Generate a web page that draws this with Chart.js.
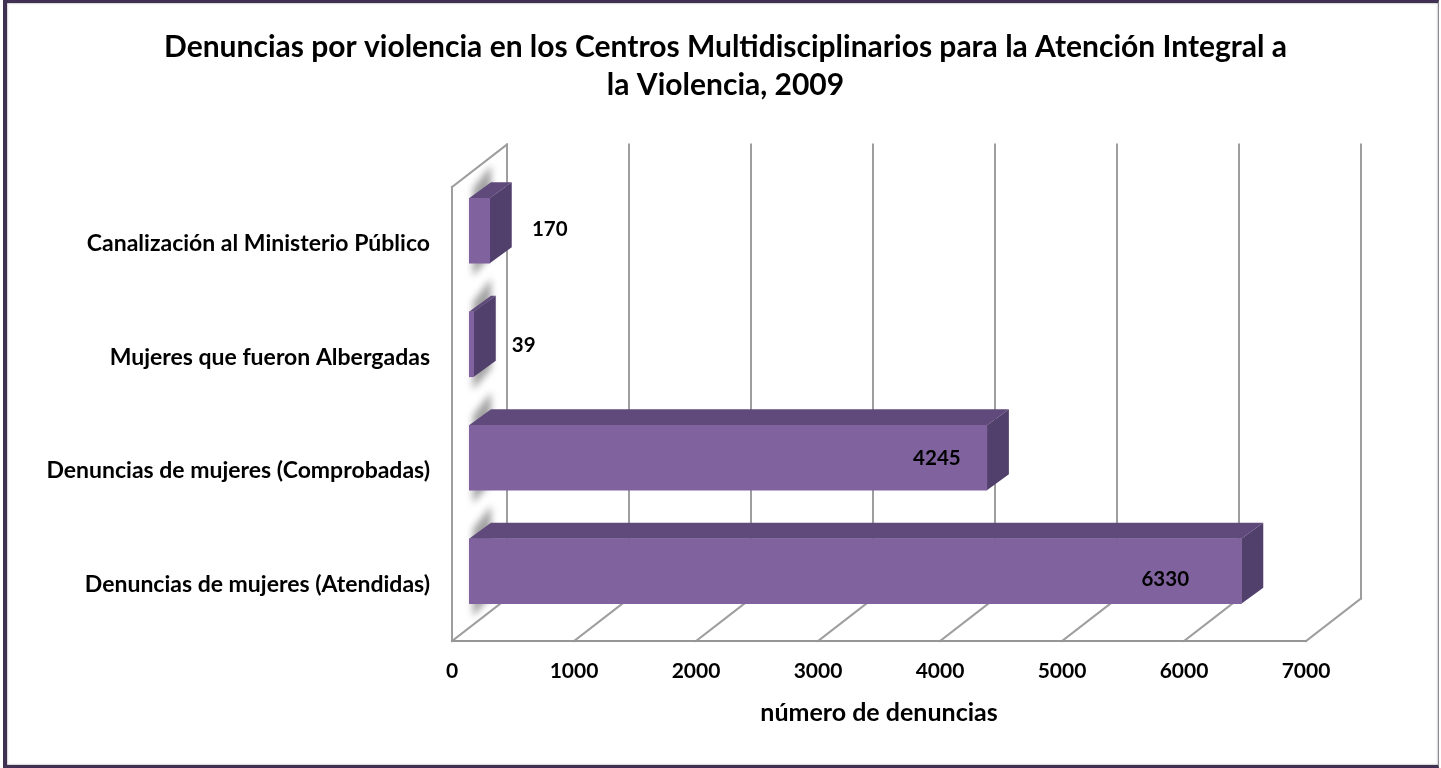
<!DOCTYPE html>
<html lang="es">
<head>
<meta charset="utf-8">
<title>Denuncias por violencia</title>
<script src="https://cdn.jsdelivr.net/npm/chart.js@4"></script>
<style>
html,body{margin:0;padding:0;background:#fff;overflow:hidden;width:1441px;height:768px}
#wrap{position:relative;width:1441px;height:768px}
canvas{position:absolute;left:0;top:0;filter:blur(0.45px)}
#frame{position:absolute;left:3px;top:0;width:1436px;height:768px;box-sizing:border-box;
 border-style:solid;border-color:#403152;border-width:3px 1px 3px 4px;border-right-color:#8f8a99;
 box-shadow:inset 0 0 2px #777;pointer-events:none}
</style>
</head>
<body>
<div id="wrap"><canvas id="c" width="1441" height="768"></canvas><div id="frame"></div></div>
<script>
const titleLines = ["Denuncias por violencia en los Centros Multidisciplinarios para la Atención Integral a", "la Violencia, 2009"];
const categories = ["Canalización al Ministerio Público", "Mujeres que fueron Albergadas", "Denuncias de mujeres (Comprobadas)", "Denuncias de mujeres (Atendidas)"];
const denuncias = [170, 39, 4245, 6330];
const xTitle = "número de denuncias";
const xMax = 7000;
const xStep = 1000;

const FONT = "Lato, Carlito, sans-serif";
const WALL = {dx: 55, dy: -42.5};          // chart-box depth
const BAR_SHIFT = {dx: 17, dy: -13};       // bar plane inside the box
const BAR_DEPTH = {dx: 22, dy: -16};       // bar's own depth
const LABEL_OFFSET = [[60, -1], [50, 1], [-50, 1], [-76, 8]];

function poly(ctx, pts){
  ctx.beginPath();
  pts.forEach((p,i)=> i ? ctx.lineTo(p[0],p[1]) : ctx.moveTo(p[0],p[1]));
  ctx.closePath();
}

const box3d = {
  id: 'box3d',
  beforeDatasetsDraw(chart){
    const {ctx, chartArea:a, scales:{x}} = chart;
    ctx.save();
    ctx.strokeStyle = '#9e9e9e';
    ctx.lineWidth = 2;
    ctx.lineCap = 'square';
    const line = (x1,y1,x2,y2)=>{ctx.beginPath();ctx.moveTo(x1,y1);ctx.lineTo(x2,y2);ctx.stroke();};
    x.ticks.forEach(t=>{
      const px = x.getPixelForValue(t.value);
      line(px+WALL.dx, a.bottom+WALL.dy, px+WALL.dx, a.top+WALL.dy);
      line(px, a.bottom, px+WALL.dx, a.bottom+WALL.dy);
    });
    line(a.left, a.top, a.left, a.bottom);
    line(a.left, a.top, a.left+WALL.dx, a.top+WALL.dy);
    ctx.strokeStyle = '#969696';
    line(a.left, a.bottom, a.right, a.bottom);

    // soft shadow thrown on the side wall
    const meta = chart.getDatasetMeta(0);
    ctx.filter = 'blur(3.5px)';
    ctx.fillStyle = '#a2a2a2';
    meta.data.forEach(bar=>{
      const p = bar.getProps(['y','height','base']);
      const lx = p.base+BAR_SHIFT.dx, t = p.y-p.height/2+BAR_SHIFT.dy, b = p.y+p.height/2+BAR_SHIFT.dy;
      poly(ctx, [[lx+4,t-10],[lx+BAR_DEPTH.dx,t-33],[lx+BAR_DEPTH.dx,b-8],[lx+4,b+13]]);
      ctx.fill();
    });
    ctx.filter = 'none';
    ctx.restore();

    // bar top and end faces, in the bars' own plane
    ctx.save();
    meta.data.forEach(bar=>{
      const p = bar.getProps(['x','y','height','base']);
      const l = p.base+BAR_SHIFT.dx, r = p.x+BAR_SHIFT.dx;
      const t = p.y-p.height/2+BAR_SHIFT.dy, b = p.y+p.height/2+BAR_SHIFT.dy;
      const d = BAR_DEPTH;
      ctx.fillStyle = '#604a7b';
      poly(ctx, [[l,t],[l+d.dx,t+d.dy],[r+d.dx,t+d.dy],[r,t]]); ctx.fill();
      ctx.fillStyle = '#513f6c';
      poly(ctx, [[r,t],[r+d.dx,t+d.dy],[r+d.dx,b+d.dy],[r,b]]); ctx.fill();
    });
    ctx.restore();
  },
  beforeDatasetDraw(chart){
    chart.ctx.save();
    chart.ctx.translate(BAR_SHIFT.dx, BAR_SHIFT.dy);
  },
  afterDatasetDraw(chart){
    chart.ctx.restore();
  },
  afterDatasetsDraw(chart){
    const {ctx} = chart;
    const meta = chart.getDatasetMeta(0);
    ctx.save();
    ctx.font = 'bold 20.5px ' + FONT;
    ctx.fillStyle = '#000';
    ctx.textAlign = 'center';
    ctx.textBaseline = 'middle';
    meta.data.forEach((bar,i)=>{
      const p = bar.getProps(['x','y']);
      ctx.fillText(String(denuncias[i]),
        p.x+BAR_SHIFT.dx+LABEL_OFFSET[i][0],
        p.y+BAR_SHIFT.dy+LABEL_OFFSET[i][1]);
    });
    ctx.restore();
  }
};

new Chart(document.getElementById('c'), {
  type: 'bar',
  data: {
    labels: categories,
    datasets: [{
      data: denuncias,
      backgroundColor: '#7f629e',
      borderWidth: 0,
      barThickness: 65
    }]
  },
  plugins: [box3d],
  options: {
    indexAxis: 'y',
    responsive: false,
    animation: false,
    devicePixelRatio: 1,
    layout: {padding: {left: 10, right: 0, top: 0, bottom: 40}},
    plugins: {
      legend: {display: false},
      tooltip: {enabled: false},
      title: {
        display: true,
        text: titleLines,
        color: '#000',
        font: {family: FONT, size: 30, weight: 'bold', lineHeight: 1.25},
        padding: {top: 29, bottom: 83}
      }
    },
    scales: {
      x: {
        type: 'linear',
        min: 0, max: xMax,
        ticks: {stepSize: xStep, color: '#000', maxRotation: 0, padding: 10,
                font: {family: FONT, size: 21, weight: 'bold'},
                callback: v => String(v)},
        grid: {display: false},
        border: {display: false},
        title: {display: true, text: xTitle, color: '#000',
                font: {family: FONT, size: 25, weight: 'bold'}, padding: {top: 0, bottom: 0}},
        afterFit(s){ s.height = 87; }
      },
      y: {
        type: 'category',
        ticks: {color: '#000', padding: 14, font: {family: FONT, size: 23, weight: 'bold'}},
        grid: {display: false},
        border: {display: false},
        afterFit(s){ s.width = 442; }
      },
      yR: {
        type: 'linear',
        position: 'right',
        display: true,
        ticks: {display: false},
        grid: {display: false},
        border: {display: false},
        afterFit(s){ s.width = 135; }
      }
    }
  }
});
</script>
</body>
</html>
